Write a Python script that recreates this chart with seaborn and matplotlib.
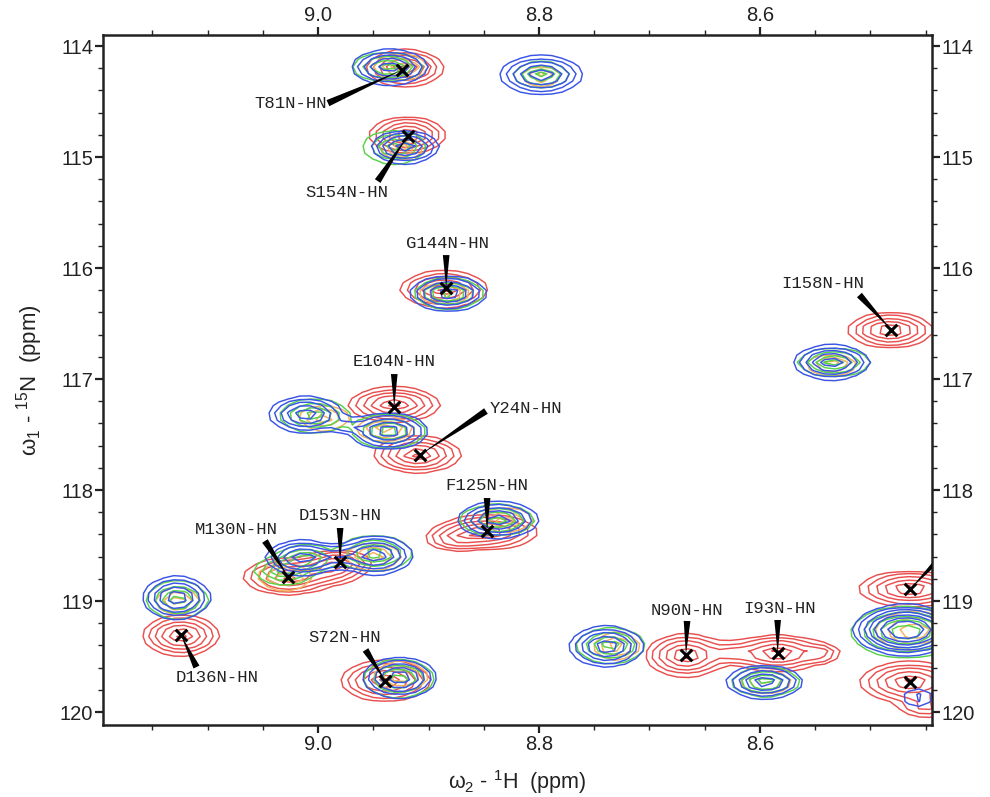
# 2D 15N-1H overlay, four spectra with assigned peaks
import numpy as np
import matplotlib
matplotlib.use("Agg")
import matplotlib.pyplot as plt
import matplotlib.ticker as mticker
import seaborn as sns

# peak tables, ppm (h, n, half width h, half width n, height)
red_h = [8.921, 8.919, 8.886, 8.482, 8.931, 8.910, 8.847, 8.876, 9.027, 8.990, 8.980,
         9.124, 8.939, 8.667, 8.584, 8.545, 8.625, 8.464, 8.464, 8.450, 8.430]
red_n = [114.198, 114.802, 116.19, 116.56, 117.23, 117.68, 118.38, 118.44, 118.78, 118.72, 118.65,
         119.31, 119.72, 119.49, 119.47, 119.47, 119.47, 118.89, 119.73, 119.95, 117.43]
red_wh = [.034, .034, .039, .038, .041, .039, .045, .030, .040, .035, .030,
          .034, .040, .036, .042, .020, .025, .046, .045, .030, .012]
red_wn = [.162, .160, .160, .153, .153, .160, .150, .120, .160, .140, .110,
          .180, .180, .190, .160, .100, .110, .155, .180, .120, .070]
red_amp = [1, 1, 1, 1, 1, 1, 1, .45, 1, .6, .55, 1, 1, 1, 1, .4, .35, 1, 1, .4, .2]

blue_h = [8.935, 8.798, 8.921, 8.882, 8.535, 9.011, 8.936, 8.837, 9.014, 8.948,
          9.128, 8.926, 8.739, 8.596, 8.468, 8.457, 8.980, 8.975]
blue_n = [114.19, 114.26, 114.91, 116.23, 116.85, 117.32, 117.47, 118.27, 118.61, 118.59,
          118.97, 119.69, 119.41, 119.73, 119.26, 119.87, 118.60, 117.42]
blue_wh = [.034, .037, .030, .034, .034, .033, .035, .036, .033, .033,
           .030, .033, .033, .034, .040, .020, .025, .020]
blue_wn = [.155, .170, .144, .153, .153, .160, .160, .160, .153, .170,
           .190, .180, .180, .145, .190, .120, .110, .070]
blue_amp = [1, 1, 1, 1, 1, 1, 1, 1, 1, 1, 1, 1, 1, 1, 2.5, .25, .35, .3]

green_h = [8.937, 8.798, 8.931, 8.882, 8.533, 9.003, 8.936, 8.838, 9.010, 8.949, 9.030,
           9.127, 8.927, 8.735, 8.595, 8.468]
green_n = [114.19, 114.26, 114.91, 116.23, 116.85, 117.33, 117.47, 118.27, 118.62, 118.57, 118.72,
           118.99, 119.70, 119.40, 119.73, 119.28]
green_wh = [.031, .024, .028, .031, .032, .031, .033, .033, .026, .033, .027,
            .027, .031, .030, .030, .045]
green_wn = [.125, .110, .145, .130, .120, .145, .145, .135, .115, .155, .125,
            .165, .165, .155, .125, .210]
green_amp = [1, 1, 1, 1, 1, 1, 1, 1, 1, 1, 1, 1, 1, 1, 1, 1.5]

orange_h = [8.925, 8.798, 8.925, 8.885, 8.535, 8.995, 8.940, 8.830, 8.950, 9.030,
            9.127, 8.925, 8.730, 8.595, 8.460]
orange_n = [114.19, 114.27, 114.92, 116.23, 116.87, 117.35, 117.45, 118.27, 118.60, 118.78,
            119.00, 119.68, 119.41, 119.73, 119.27]
orange_wh = [.024, .016, .018, .022, .022, .022, .024, .024, .024, .024,
             .018, .024, .020, .022, .035]
orange_wn = [.105, .075, .100, .095, .085, .105, .105, .095, .115, .115,
             .115, .125, .115, .095, .170]

# assigned peaks
cross_h = [8.924, 8.919, 8.884, 8.481, 8.931, 8.908, 8.847, 8.980, 9.027, 9.124, 8.939,
           8.667, 8.584, 8.464, 8.464]
cross_n = [114.216, 114.811, 116.18, 116.559, 117.252, 117.685, 118.369, 118.649, 118.784,
           119.306, 119.721, 119.486, 119.468, 118.892, 119.730]
labels = ["T81N-HN", "S154N-HN", "G144N-HN", "I158N-HN", "E104N-HN", "Y24N-HN", "F125N-HN",
          "D153N-HN", "M130N-HN", "D136N-HN", "S72N-HN", "N90N-HN", "I93N-HN"]
label_h = [9.025, 8.974, 8.883, 8.543, 8.931, 8.812, 8.847, 8.980, 9.074, 9.091, 8.976, 8.666, 8.582]
label_n = [114.514, 115.315, 115.775, 116.135, 116.838, 117.261, 117.955, 118.225, 118.360,
           119.685, 119.333, 119.081, 119.063]
base_h = [8.991, 8.946, 8.884, 8.510, 8.931, 8.848, 8.847, 8.980, 9.048, 9.110, 8.957, 8.666, 8.584, 8.433]
base_n = [114.514, 115.216, 115.883, 116.243, 116.955, 117.288, 118.072, 118.342, 118.459,
          119.595, 119.441, 119.180, 119.171, 118.568]

sns.set_style("ticks")
plt.rcParams['font.family'] = ['Liberation Sans', 'DejaVu Sans']
plt.rcParams['mathtext.fontset'] = 'custom'
plt.rcParams['mathtext.rm'] = 'Liberation Sans'
plt.rcParams['mathtext.default'] = 'rm'

fig = plt.figure(figsize=(9.9, 7.97), dpi=100)
ax = fig.add_axes([103/990, 72/797, 829/990, 690/797])

# coarse digital resolution gives the polygon look of the contours
grid_h = np.arange(8.38, 9.24, 0.0095)
grid_n = np.arange(113.6, 120.5, 0.065)
H, N = np.meshgrid(grid_h, grid_n)
OUTER = 0.1


def spectrum(hs, ns, whs, wns, amps=None):
    if amps is None:
        amps = [1] * len(hs)
    z = np.zeros_like(H)
    k = -np.log(OUTER)
    for h0, n0, wh, wn, a in zip(hs, ns, whs, wns, amps):
        z += a * np.exp(-k * (((H - h0) / wh) ** 2 + ((N - n0) / wn) ** 2))
    return z


ax.contour(H, N, spectrum(red_h, red_n, red_wh, red_wn, red_amp),
           levels=[.10, .20, .35, .55, .78, .93], colors='#e8504f', linewidths=1.05)
ax.contour(H, N, spectrum(orange_h, orange_n, orange_wh, orange_wn),
           levels=[.10, .35, .70], colors='#f2b25e', linewidths=1.05)
ax.contour(H, N, spectrum(green_h, green_n, green_wh, green_wn, green_amp),
           levels=[.10, .30, .55, .82, 1.2], colors='#58d24a', linewidths=1.05)
ax.contour(H, N, spectrum(blue_h, blue_n, blue_wh, blue_wn, blue_amp),
           levels=[.10, .20, .35, .55, .80, 1.2, 1.7], colors='#3a55e6', linewidths=1.05)

# wedges run from the label end to the peak
for bh, bn, ch, cn in zip(base_h, base_n, cross_h, cross_n):
    ann = ax.annotate('', xy=(ch, cn), xytext=(bh, bn), annotation_clip=False,
                      arrowprops=dict(arrowstyle='wedge,tail_width=0.48,shrink_factor=0.5',
                                      color='black', lw=0, shrinkA=0, shrinkB=0))
    ann.arrow_patch.set_clip_path(ax.patch)

sns.scatterplot(x=cross_h, y=cross_n, ax=ax, marker='x', color='black', s=70, linewidth=2.2, zorder=5)

for name, lh, ln in zip(labels, label_h, label_n):
    ax.text(lh, ln, name, family='Liberation Mono', fontsize=12.4, color='#222222',
            ha='center', va='center')

ax.set_xlim(9.1946, 8.4443)
ax.set_ylim(120.117, 113.9)
ax.xaxis.set_major_locator(mticker.MultipleLocator(0.2))
ax.xaxis.set_minor_locator(mticker.MultipleLocator(0.05))
ax.yaxis.set_major_locator(mticker.MultipleLocator(1))
ax.yaxis.set_minor_locator(mticker.MultipleLocator(0.2))
ax.xaxis.set_major_formatter(mticker.FormatStrFormatter('%.1f'))
ax.yaxis.set_major_formatter(mticker.FormatStrFormatter('%d'))
ax.tick_params(which='major', direction='out', length=5.5, width=1.6, labelsize=14.5, color='#222222',
               top=True, right=True, labeltop=True, labelright=True, pad=1.5, labelcolor='#222222')
ax.tick_params(which='minor', direction='out', length=3.5, width=1, color='#222222', top=True, right=True)
for sp in ax.spines.values():
    sp.set_visible(True)
    sp.set_linewidth(1.8)
    sp.set_color('#222222')

ax.set_xlabel('')
ax.set_ylabel('')
fig.text(517/990, 1 - 782/797, 'ω$_2$ - $^1$H  (ppm)', fontsize=15.5, ha='center', va='center', color='#222222')
fig.text(30/990, 1 - 380/797, 'ω$_1$ - $^{15}$N  (ppm)', fontsize=16, ha='center', va='center',
         rotation=90, color='#222222')

plt.savefig("out.png", dpi=100)
plt.close()
